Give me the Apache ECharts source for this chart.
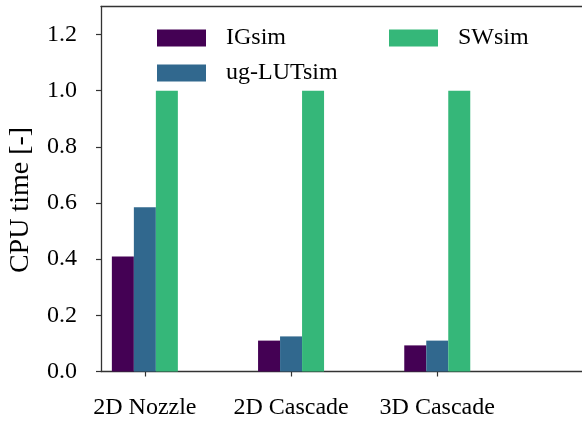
<!DOCTYPE html>
<html>
<head>
<meta charset="utf-8">
<script src="https://cdn.jsdelivr.net/npm/echarts@6/dist/echarts.min.js"></script>
<style>
html,body{margin:0;padding:0;background:#fff;}
#chart{width:582px;height:421px;}
</style>
</head>
<body>
<div id="chart"></div>
<script>
const categories = ['2D Nozzle', '2D Cascade', '3D Cascade'];
const igsim = [0.41, 0.11, 0.093];
const uglut = [0.585, 0.125, 0.11];
const swsim = [1.0, 1.0, 1.0];
const yTicks = [0, 0.2, 0.4, 0.6, 0.8, 1.0, 1.2];

const FONT = 'Liberation Serif';
const AX = '#333';
const toPairs = arr => arr.map((v, i) => [i, v]);

const chart = echarts.init(document.getElementById('chart'), null, {renderer: 'canvas'});
const legendBase = {
  orient: 'horizontal', padding: 0, itemWidth: 49, itemHeight: 17,
  icon: 'rect', selectedMode: false,
  textStyle: {fontFamily: FONT, fontSize: 24, color: '#000', lineHeight: 23, padding: [0, 0, 0, 15]}
};
const XMIN = -0.3, XMAX = 2.99;
chart.setOption({
  animation: false,
  backgroundColor: '#fff',
  grid: {left: 101, right: 0, top: 6.5, bottom: 49.5, show: false, containLabel: false, outerBoundsMode: 'none'},
  legend: [
    Object.assign({}, legendBase, {left: 157, top: 26, data: ['IGsim']}),
    Object.assign({}, legendBase, {left: 157, top: 61, data: ['ug-LUTsim']}),
    Object.assign({}, legendBase, {left: 389, top: 26, data: ['SWsim']})
  ],
  xAxis: [{
    type: 'value', min: XMIN, max: XMAX, position: 'bottom',
    splitLine: {show: false},
    axisLine: {show: true, onZero: false, lineStyle: {color: AX, width: 1.3}},
    axisTick: {show: true, length: 5, customValues: [0, 1, 2], lineStyle: {color: AX, width: 1.2}},
    axisLabel: {
      customValues: [0, 1, 2], margin: 24,
      fontFamily: FONT, fontSize: 24, color: '#000',
      formatter: v => categories[Math.round(v)] || ''
    }
  }, {
    type: 'value', min: XMIN, max: XMAX, position: 'top',
    splitLine: {show: false},
    axisLine: {show: true, onZero: false, lineStyle: {color: AX, width: 1.3}},
    axisTick: {show: false}, axisLabel: {show: false}
  }],
  yAxis: {
    type: 'value', min: 0, max: 1.3,
    name: 'CPU time [-]', nameLocation: 'middle', nameGap: 66,
    nameTextStyle: {fontFamily: FONT, fontSize: 28, color: '#000', padding: [0, 22, 0, 0]},
    splitLine: {show: false},
    axisLine: {show: true, onZero: false, lineStyle: {color: AX, width: 1.3}},
    axisTick: {show: true, length: 5, customValues: yTicks, lineStyle: {color: AX, width: 1.2}},
    axisLabel: {
      customValues: yTicks, margin: 24,
      fontFamily: FONT, fontSize: 24, color: '#000',
      formatter: v => v.toFixed(1)
    }
  },
  series: [
    {name: 'IGsim', type: 'bar', data: toPairs(igsim), barWidth: 22, barGap: '0%', itemStyle: {color: '#440154'}},
    {name: 'ug-LUTsim', type: 'bar', data: toPairs(uglut), barWidth: 22, barGap: '0%', itemStyle: {color: '#31688e'}},
    {name: 'SWsim', type: 'bar', data: toPairs(swsim), barWidth: 22, barGap: '0%', itemStyle: {color: '#35b779'}}
  ]
});
</script>
</body>
</html>
